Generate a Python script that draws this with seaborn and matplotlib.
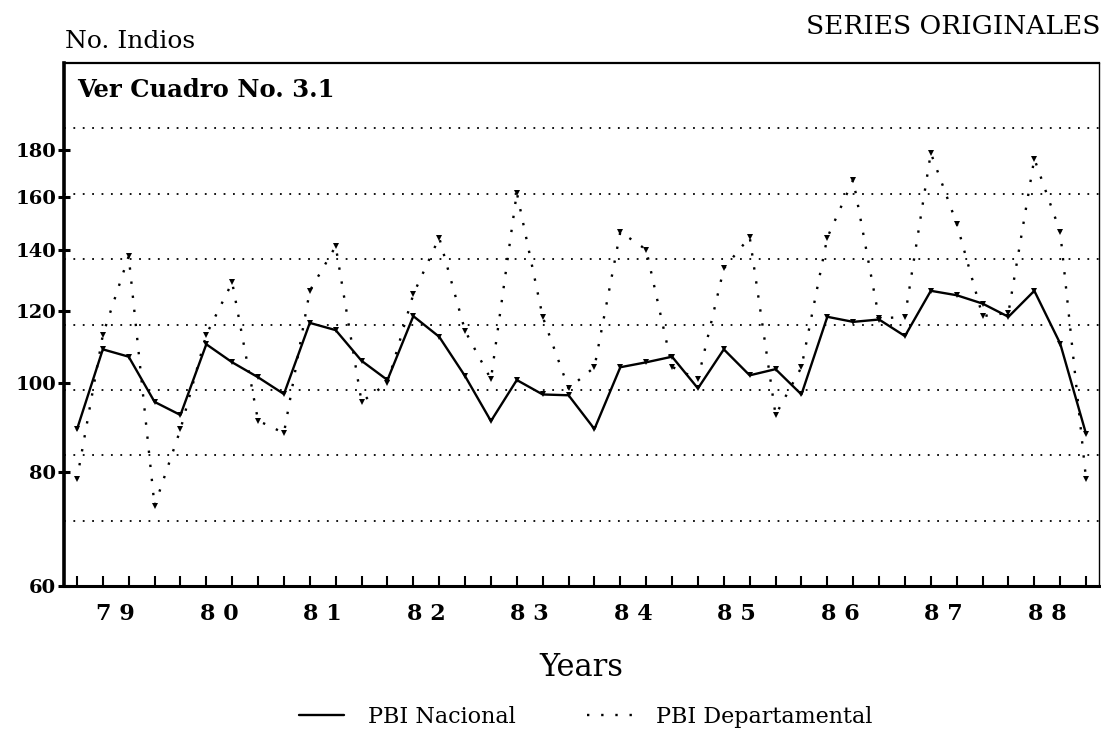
import numpy as np
import pandas as pd
import matplotlib
matplotlib.use("Agg")
import matplotlib.pyplot as plt
from matplotlib.lines import Line2D
from matplotlib.ticker import FixedLocator, NullLocator, FixedFormatter
import seaborn as sns

# ---------------- data (quarterly index, 1979Q1 - 1988Q4) ----------------
quarters = list(range(40))
pbi_nacional = [89.0, 108.9, 106.9, 95.4, 92.3, 110.3, 105.4, 101.5, 97.3, 116.4,
                114.3, 105.8, 100.8, 118.4, 112.4, 101.8, 90.9, 100.8, 97.2, 97.0,
                89.1, 104.1, 105.4, 106.9, 98.7, 108.9, 102.0, 103.6, 97.2, 118.2,
                116.7, 117.4, 112.6, 126.2, 124.8, 122.2, 118.2, 126.2, 110.5, 88.0]
pbi_departamental = [78.5, 112.9, 137.7, 73.4, 89.0, 113.0, 128.9, 91.0, 88.2, 126.2,
                     141.2, 95.4, 100.0, 125.1, 144.3, 114.1, 101.0, 161.6, 118.2, 98.7,
                     104.1, 146.4, 140.0, 104.2, 101.0, 133.5, 144.5, 92.3, 104.1, 144.3,
                     167.0, 117.7, 118.2, 178.6, 149.5, 118.4, 119.4, 176.0, 146.4, 78.5]
year_labels = ["7 9", "8 0", "8 1", "8 2", "8 3", "8 4", "8 5", "8 6", "8 7", "8 8"]
y_ticks = [60, 80, 100, 120, 140, 160, 180]
y_tick_labels = ["60", "80", "100", "120", "140", "160", "180"]
series_names = ["PBI Nacional", "PBI Departamental"]

df = pd.DataFrame({
    "t": quarters * 2,
    "valor": pbi_nacional + pbi_departamental,
    "serie": [series_names[0]] * 40 + [series_names[1]] * 40,
})

# ---------------- figure ----------------
sns.set_style("white")
plt.rcParams["font.family"] = ["DejaVu Serif", "DejaVu Sans"]
plt.rcParams["text.color"] = "black"
plt.rcParams["axes.labelcolor"] = "black"
plt.rcParams["xtick.color"] = "black"
plt.rcParams["ytick.color"] = "black"

DOT = (0, (1, 5))

W, H = 1101, 732
fig = plt.figure(figsize=(W / 100, H / 100), dpi=100)
ax = fig.add_axes([64 / W, 1 - 586 / H, (1099 - 64) / W, (586 - 63) / H])

sns.lineplot(data=df[df.serie == series_names[0]], x="t", y="valor", ax=ax,
             color="black", lw=1.7, marker="v", markersize=4.5, markeredgewidth=0,
             legend=False)
sns.lineplot(data=df[df.serie == series_names[1]], x="t", y="valor", ax=ax,
             color="black", lw=1.7, linestyle=DOT, marker="v",
             markersize=4.5, markeredgewidth=0, legend=False)

ax.set_yscale("log")
ymin, ymax = 60, 224
ax.set_ylim(ymin, ymax)
ax.set_xlim(-0.5, 39.5)

# evenly spaced (in log) dotted gridlines dividing the frame into 8 bands
for k in range(1, 8):
    ax.axhline(ymin * (ymax / ymin) ** (k / 8), color="black", lw=1.3,
               linestyle=(0, (1, 4.2)), zorder=0)

# y ticks
ax.yaxis.set_major_locator(FixedLocator(y_ticks))
ax.yaxis.set_major_formatter(FixedFormatter(y_tick_labels))
ax.yaxis.set_minor_locator(NullLocator())
ax.tick_params(axis="y", which="major", direction="inout", length=9, width=2.2,
               labelsize=14, pad=1, left=True)
for lab in ax.get_yticklabels():
    lab.set_fontweight("bold")

# x ticks: quarter marks + year labels centred on each year
ax.xaxis.set_major_locator(FixedLocator([1.5 + 4 * i for i in range(len(year_labels))]))
ax.xaxis.set_major_formatter(FixedFormatter(year_labels))
ax.xaxis.set_minor_locator(FixedLocator(quarters))
ax.tick_params(axis="x", which="major", length=0, labelsize=16, pad=12)
ax.tick_params(axis="x", which="minor", direction="in", length=7, width=1.5,
               bottom=True)
for lab in ax.get_xticklabels():
    lab.set_fontweight("bold")

ax.set_xlabel("Years", fontsize=22, labelpad=20)
ax.set_ylabel("")

for side, lw in (("left", 2.6), ("bottom", 2.2), ("top", 1.6), ("right", 1.0)):
    ax.spines[side].set_visible(True)
    ax.spines[side].set_color("black")
    ax.spines[side].set_linewidth(lw)

ax.text(0.013, 0.948, "Ver Cuadro No. 3.1", transform=ax.transAxes,
        fontsize=17.5, fontweight="bold", va="center", ha="left")

fig.text(65 / W, 1 - 42 / H, "No. Indios", fontsize=18, va="center", ha="left")
fig.text(1100 / W, 1 - 27 / H, "SERIES ORIGINALES", fontsize=19, va="center",
         ha="right")

handles = [Line2D([], [], color="black", lw=1.7),
           Line2D([], [], color="black", lw=1.7, linestyle=DOT)]
fig.legend(handles, series_names, loc="center", bbox_to_anchor=(586 / W, 1 - 717 / H),
           ncol=2, frameon=False, fontsize=16, handlelength=2.0, handletextpad=1.1,
           columnspacing=3.2)

fig.savefig("out.png", dpi=100)
